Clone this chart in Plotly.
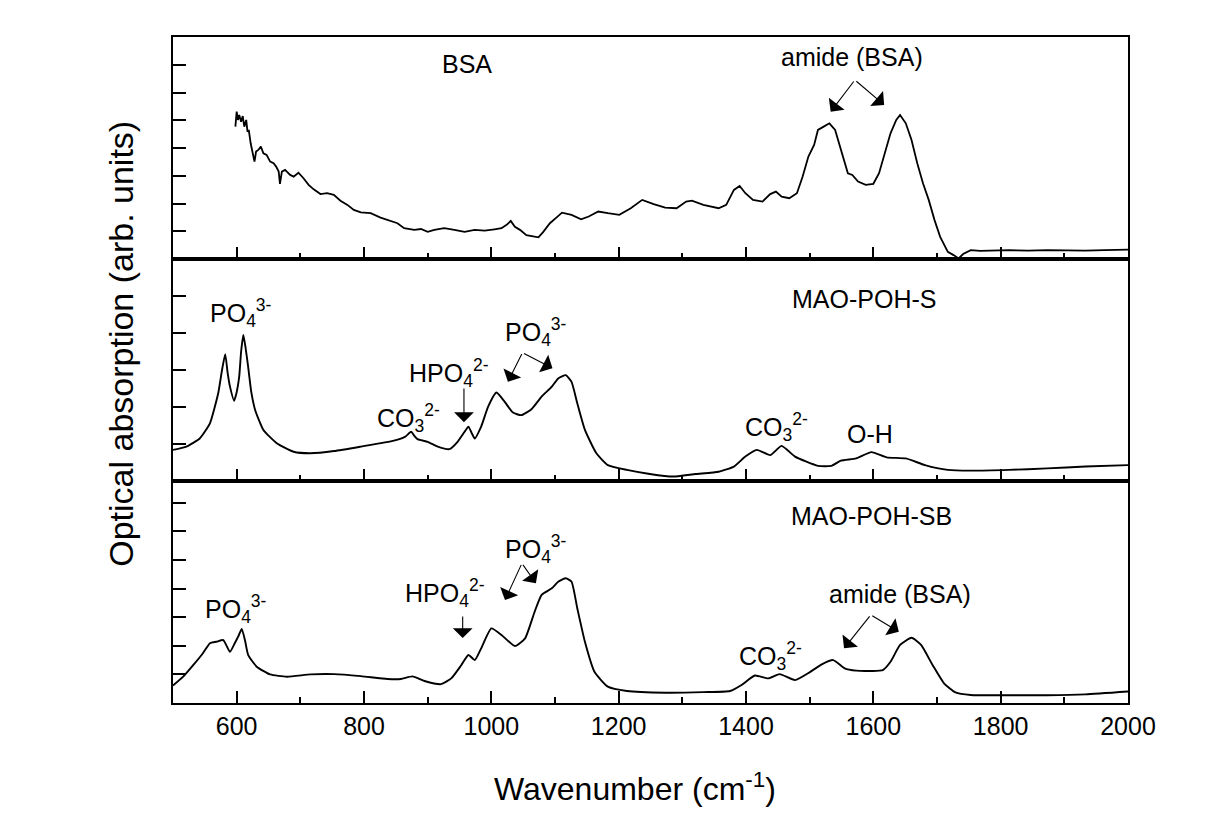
import plotly.graph_objects as go
from plotly.subplots import make_subplots

# ---------------- data ----------------
bsa_wn = [598, 600, 602, 604, 607, 609.5, 612, 615, 617, 619, 622, 625, 628, 630.5, 634, 638,
          642, 647, 652.6, 658, 662, 666, 668, 671, 676, 684, 689.5, 697, 705, 713, 721, 731.6,
          742, 752.6, 763, 774, 784, 795, 810.5, 826, 842, 852.6, 863, 879, 889.5, 900, 910.5,
          926, 942, 958, 973.7, 989.5, 1005, 1016, 1024, 1030.5, 1037, 1045, 1055, 1066, 1074,
          1081.6, 1092, 1102.6, 1111, 1126, 1141, 1153, 1168, 1183, 1201, 1219, 1237, 1255,
          1273, 1291, 1306, 1315, 1333, 1357, 1369, 1381, 1390, 1399, 1411, 1426, 1438, 1447,
          1456, 1468, 1480, 1489, 1498, 1507, 1513, 1522, 1531, 1540, 1548, 1555, 1560, 1567,
          1576, 1588, 1600, 1609, 1618, 1627, 1636, 1642, 1651, 1660, 1669, 1678, 1687, 1696,
          1705, 1717, 1726, 1734, 1741, 1753, 1768, 1783, 1798, 1813, 1843, 1873, 1903, 1933,
          1963, 2000]
bsa_abs = [4.77, 5.31, 5.01, 5.19, 4.95, 5.15, 4.77, 5.01, 4.59, 4.65, 4.17, 3.81, 3.51, 3.87,
           3.93, 4.05, 3.81, 3.75, 3.51, 3.45, 3.33, 3.15, 2.71, 3.15, 3.21, 3.03, 2.97, 3.11,
           2.91, 2.67, 2.51, 2.34, 2.37, 2.31, 2.10, 1.95, 1.77, 1.68, 1.65, 1.49, 1.38, 1.29,
           1.11, 1.05, 1.08, 0.98, 1.05, 1.11, 1.05, 0.98, 1.05, 1.02, 1.07, 1.11, 1.23, 1.37,
           1.16, 1.05, 0.86, 0.80, 0.78, 0.98, 1.29, 1.50, 1.67, 1.59, 1.43, 1.53, 1.71, 1.65,
           1.59, 1.83, 2.13, 1.98, 1.85, 1.83, 2.07, 2.10, 1.95, 1.83, 1.95, 2.49, 2.63, 2.37,
           2.13, 2.07, 2.34, 2.43, 2.25, 2.19, 2.37, 2.97, 3.69, 4.11, 4.65, 4.77, 4.89, 4.65,
           4.05, 3.45, 3.09, 3.03, 2.79, 2.67, 2.71, 3.09, 3.81, 4.53, 5.01, 5.19, 4.89, 4.29,
           3.45, 2.73, 2.13, 1.41, 0.80, 0.26, 0.14, 0.02, 0.18, 0.32, 0.29, 0.30, 0.33, 0.32,
           0.30, 0.32, 0.31, 0.30, 0.32, 0.34]

s_wn = [500, 521, 542, 558, 571, 577, 582, 586, 589.5, 596, 600, 604, 607, 610.5, 614, 618,
        623, 629, 642, 663, 689.5, 716, 753, 795, 847, 865, 874, 879, 884, 900, 916, 934, 947,
        958, 964, 969, 974, 984, 995, 1008, 1021, 1034, 1047, 1063, 1079, 1095, 1105, 1117,
        1126, 1135, 1147, 1165, 1183, 1213, 1249, 1285, 1321, 1357, 1381, 1399, 1417, 1438,
        1456, 1477, 1513, 1534, 1549, 1573, 1597, 1621, 1651, 1681, 1717, 1753, 1813, 1873,
        1933, 2000]
s_abs = [0.84, 0.93, 1.15, 1.56, 2.37, 3.0, 3.43, 2.9, 2.55, 2.17, 2.4, 2.82, 3.5, 3.95, 3.6,
         3.09, 2.4, 1.92, 1.38, 1.02, 0.79, 0.75, 0.81, 0.93, 1.09, 1.2, 1.33, 1.22, 1.13, 1.06,
         0.93, 0.86, 1.06, 1.33, 1.47, 1.3, 1.15, 1.47, 2.01, 2.39, 2.14, 1.85, 1.78, 1.94, 2.28,
         2.55, 2.77, 2.86, 2.68, 2.1, 1.38, 0.75, 0.43, 0.30, 0.19, 0.12, 0.19, 0.25, 0.39, 0.66,
         0.84, 0.70, 0.95, 0.66, 0.41, 0.41, 0.55, 0.61, 0.78, 0.64, 0.61, 0.43, 0.30, 0.28,
         0.30, 0.34, 0.39, 0.43]

sb_wn = [500, 516, 532, 547, 558, 568, 579, 589.5, 597, 603, 608, 613, 618, 631.5, 652.6, 679,
         716, 753, 795, 837, 858, 876, 895, 921, 937, 953, 964, 974, 984, 1000, 1016, 1037,
         1053, 1068, 1079, 1095, 1105, 1117, 1126, 1135, 1147, 1162, 1183, 1213, 1273, 1333,
         1375, 1393, 1414, 1435, 1453, 1477, 1501, 1519, 1537, 1555, 1573, 1597, 1615, 1627,
         1642, 1660, 1675, 1693, 1711, 1729, 1753, 1813, 1873, 1933, 2000]
sb_abs = [0.61, 0.92, 1.33, 1.74, 2.09, 2.14, 2.20, 1.79, 2.09, 2.35, 2.59, 2.2, 1.68, 1.27, 1.0,
          0.92, 1.0, 1.01, 0.94, 0.84, 0.84, 0.93, 0.77, 0.66, 0.86, 1.33, 1.68, 1.50, 1.91,
          2.61, 2.38, 1.99, 2.26, 3.19, 3.78, 4.01, 4.24, 4.36, 4.24, 3.31, 2.14, 1.09, 0.57,
          0.42, 0.36, 0.38, 0.42, 0.63, 0.96, 0.86, 1.01, 0.80, 1.09, 1.35, 1.50, 1.21, 1.13,
          1.12, 1.15, 1.44, 2.03, 2.28, 2.03, 1.33, 0.69, 0.37, 0.28, 0.27, 0.27, 0.30, 0.40]

x_ticks = [600, 800, 1000, 1200, 1400, 1600, 1800, 2000]
x_range = [500, 2000]
y_ranges = [[0, 8], [0, 6], [0, 7.76]]

FONT = "Liberation Sans, Arial, sans-serif"

fig = make_subplots(rows=3, cols=1, shared_xaxes=True, vertical_spacing=0)

fig.add_trace(go.Scatter(x=bsa_wn, y=bsa_abs, mode="lines",
                         line=dict(color="black", width=1.8)), row=1, col=1)
fig.add_trace(go.Scatter(x=s_wn, y=s_abs, mode="lines",
                         line=dict(color="black", width=1.9, shape="spline", smoothing=0.5)),
              row=2, col=1)
fig.add_trace(go.Scatter(x=sb_wn, y=sb_abs, mode="lines",
                         line=dict(color="black", width=1.9, shape="spline", smoothing=0.5)),
              row=3, col=1)

for r in range(1, 4):
    fig.update_xaxes(row=r, col=1, range=x_range, tickvals=x_ticks,
                     showticklabels=(r == 3), ticks="inside", ticklen=12, tickwidth=2,
                     tickcolor="black", showline=True, linecolor="black", linewidth=2,
                     mirror=True, showgrid=False, zeroline=False,
                     minor=dict(dtick=100, tick0=500, ticks="inside", ticklen=6,
                                tickwidth=1.5, tickcolor="black", showgrid=False),
                     tickfont=dict(family=FONT, size=25, color="black"),
                     ticklabelstandoff=0)
    fig.update_yaxes(row=r, col=1, range=y_ranges[r - 1], dtick=1, tick0=0,
                     showticklabels=False, ticks="inside", ticklen=13, tickwidth=2,
                     tickcolor="black", showline=True, linecolor="black", linewidth=2,
                     mirror=True, showgrid=False, zeroline=False)

ann = []


def label(text, x, y, r, xanchor="left", size=25):
    s = "" if r == 1 else str(r)
    ann.append(dict(text=text, x=x, y=y, xref="x" + s, yref="y" + s, xanchor=xanchor,
                    yanchor="middle", showarrow=False,
                    font=dict(family=FONT, size=size, color="black")))


def arrow(x0, y0, x1, y1, r):
    s = "" if r == 1 else str(r)
    ann.append(dict(text="", x=x1, y=y1, ax=x0, ay=y0, xref="x" + s, yref="y" + s,
                    axref="x" + s, ayref="y" + s, showarrow=True, arrowhead=1,
                    arrowsize=3.0, arrowwidth=1.1, arrowcolor="black", standoff=0,
                    startstandoff=0))


# top panel
label("BSA", 961, 7.03, 1, "center")
label("amide (BSA)", 1566, 7.28, 1, "center")
arrow(1571, 6.45, 1533, 5.31, 1)
arrow(1571, 6.45, 1617, 5.55, 1)

# middle panel
label("MAO-POH-S", 1585, 4.92, 2, "center")
label("PO<sub>4</sub><sup>3-</sup>", 555, 4.55, 2)
label("CO<sub>3</sub><sup>2-</sup>", 817, 1.70, 2)
label("HPO<sub>4</sub><sup>2-</sup>", 867.5, 2.93, 2)
arrow(957, 2.54, 957, 1.59, 2)
label("PO<sub>4</sub><sup>3-</sup>", 1018, 4.04, 2)
arrow(1049, 3.47, 1026, 2.68, 2)
arrow(1049, 3.47, 1096, 3.05, 2)
label("CO<sub>3</sub><sup>2-</sup>", 1395, 1.45, 2)
label("O-H", 1594, 1.27, 2, "center")

# bottom panel
label("MAO-POH-SB", 1597, 6.54, 3, "center")
label("PO<sub>4</sub><sup>3-</sup>", 547, 3.29, 3)
label("HPO<sub>4</sub><sup>2-</sup>", 861, 3.86, 3)
arrow(955, 3.08, 955, 2.27, 3)
label("PO<sub>4</sub><sup>3-</sup>", 1018, 5.38, 3)
arrow(1048, 4.88, 1021.5, 3.60, 3)
arrow(1048, 4.88, 1070, 4.19, 3)
label("CO<sub>3</sub><sup>2-</sup>", 1386, 1.63, 3)
label("amide (BSA)", 1642, 3.81, 3, "center")
arrow(1596, 3.08, 1554, 1.91, 3)
arrow(1596, 3.08, 1640, 2.49, 3)

# axis titles
ann.append(dict(text="Wavenumber (cm<sup>-1</sup>)", xref="paper", yref="paper",
                x=0.4838, y=-0.126, xanchor="center", yanchor="middle", showarrow=False,
                font=dict(family=FONT, size=32, color="black")))
ann.append(dict(text="Optical absorption (arb. units)", xref="paper", yref="paper",
                x=-0.054, y=0.54, xanchor="center", yanchor="middle", showarrow=False,
                textangle=-90, font=dict(family=FONT, size=34, color="black")))

# page body has an 8px default margin; size the figure so the plot area lands in place
fig.update_layout(width=1211, height=809, margin=dict(l=165, r=91, t=29, b=114),
                  paper_bgcolor="white", plot_bgcolor="white", showlegend=False,
                  annotations=ann, font=dict(family=FONT, color="black"))

fig.write_html("out.html")
